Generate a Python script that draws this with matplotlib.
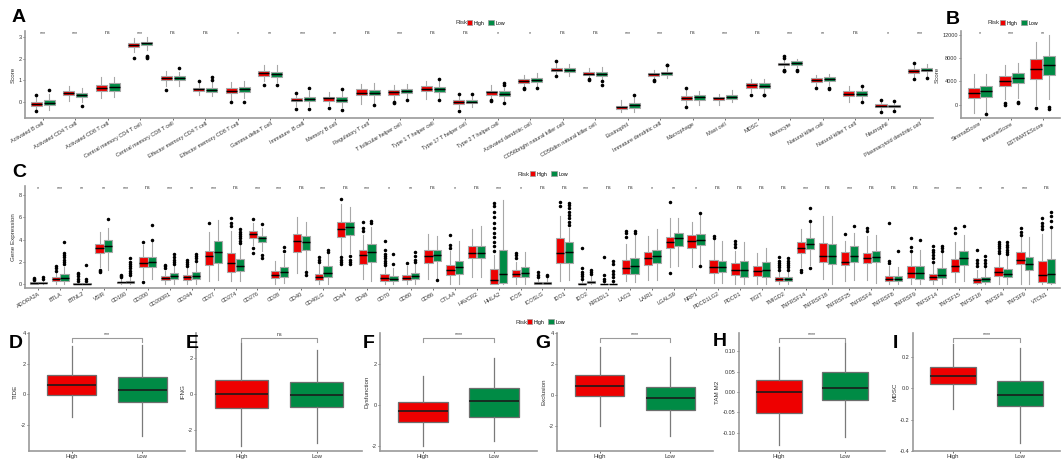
import matplotlib.pyplot as plt
from matplotlib.patches import Patch
from matplotlib.transforms import blended_transform_factory

plt.rcParams['font.family'] = ['Liberation Sans', 'DejaVu Sans']

RED = '#EE0000'
GREEN = '#008B45'
AXC = '#9a9a9a'

# ---------------- panel A: immune cell scores
a_cells = ['Activated B cell', 'Activated CD4 T cell', 'Activated CD8 T cell',
           'Central memory CD4 T cell', 'Central memory CD8 T cell',
           'Effector memory CD4 T cell', 'Effector memory CD8 T cell',
           'Gamma delta T cell', 'Immature  B cell', 'Memory B cell',
           'Regulatory T cell', 'T follicular helper cell', 'Type 1 T helper cell',
           'Type 17 T helper cell', 'Type 2 T helper cell', 'Activated dendritic cell',
           'CD56bright natural killer cell', 'CD56dim natural killer cell',
           'Eosinophil', 'Immature dendritic cell', 'Macrophage', 'Mast cell',
           'MDSC', 'Monocyte', 'Natural killer cell', 'Natural killer T cell',
           'Neutrophil', 'Plasmacytoid dendritic cell']
a_sig = ['***', '***', 'ns', '***', 'ns', 'ns', '*', '**', '***', '**', 'ns', '***',
         'ns', 'ns', '*', '*', 'ns', 'ns', '***', '***', 'ns', '***', 'ns', '***',
         '**', 'ns', '*', '***']
# (whisker low, q1, median, q3, whisker high)
a_high = [(-0.35, -0.18, -0.10, -0.02, 0.20), (0.05, 0.33, 0.42, 0.52, 0.75),
          (0.15, 0.50, 0.65, 0.80, 1.15), (2.30, 2.55, 2.63, 2.72, 2.95),
          (0.75, 1.00, 1.10, 1.18, 1.45), (0.30, 0.50, 0.58, 0.65, 0.85),
          (0.10, 0.42, 0.52, 0.62, 0.90), (0.95, 1.22, 1.32, 1.42, 1.70),
          (-0.20, 0.02, 0.08, 0.15, 0.35), (-0.15, 0.05, 0.15, 0.23, 0.45),
          (-0.10, 0.29, 0.41, 0.57, 0.84), (0.05, 0.32, 0.44, 0.55, 0.80),
          (0.12, 0.48, 0.60, 0.72, 0.95), (-0.30, -0.10, -0.02, 0.07, 0.30),
          (0.15, 0.33, 0.43, 0.52, 0.77), (0.70, 0.88, 0.98, 1.07, 1.25),
          (1.25, 1.42, 1.49, 1.57, 1.80), (1.10, 1.24, 1.30, 1.37, 1.55),
          (-0.50, -0.35, -0.27, -0.20, 0.07), (1.05, 1.20, 1.27, 1.35, 1.50),
          (-0.18, 0.08, 0.18, 0.28, 0.55), (-0.15, 0.08, 0.15, 0.22, 0.35),
          (0.45, 0.65, 0.76, 0.87, 1.05), (1.60, 1.70, 1.76, 1.82, 1.95),
          (0.75, 0.93, 1.02, 1.10, 1.25), (0.00, 0.27, 0.38, 0.48, 0.75),
          (-0.40, -0.26, -0.19, -0.11, 0.00), (1.15, 1.35, 1.44, 1.52, 1.70)]
a_low = [(-0.40, -0.15, -0.04, 0.08, 0.35), (0.00, 0.20, 0.32, 0.42, 0.65),
         (0.20, 0.50, 0.68, 0.85, 1.15), (2.40, 2.65, 2.73, 2.80, 3.00),
         (0.72, 1.02, 1.10, 1.18, 1.40), (0.25, 0.47, 0.55, 0.65, 0.90),
         (0.15, 0.47, 0.58, 0.67, 0.95), (0.92, 1.17, 1.28, 1.37, 1.70),
         (-0.20, 0.04, 0.12, 0.22, 0.50), (-0.25, 0.00, 0.10, 0.20, 0.50),
         (-0.10, 0.30, 0.42, 0.56, 0.85), (0.10, 0.40, 0.50, 0.60, 0.82),
         (0.15, 0.46, 0.58, 0.70, 0.95), (-0.25, -0.07, 0.00, 0.08, 0.30),
         (0.00, 0.27, 0.37, 0.48, 0.65), (0.72, 0.93, 1.02, 1.12, 1.32),
         (1.20, 1.40, 1.47, 1.55, 1.78), (1.05, 1.22, 1.30, 1.38, 1.60),
         (-0.48, -0.28, -0.17, -0.05, 0.25), (1.12, 1.25, 1.32, 1.40, 1.55),
         (-0.15, 0.10, 0.20, 0.30, 0.50), (0.00, 0.12, 0.22, 0.32, 0.55),
         (0.45, 0.65, 0.75, 0.85, 1.05), (1.60, 1.73, 1.81, 1.88, 2.00),
         (0.80, 0.97, 1.05, 1.15, 1.27), (0.05, 0.28, 0.38, 0.48, 0.70),
         (-0.37, -0.27, -0.20, -0.14, 0.00), (1.22, 1.42, 1.50, 1.58, 1.75)]
a_high_out = [[0.30, -0.45], [], [], [2.05], [0.55], [0.95], [0.00], [0.80],
              [0.42, -0.35], [-0.30], [], [0.00, -0.05], [], [0.38, -0.45],
              [0.10, 0.05], [0.62, 0.58], [1.88, 1.20], [1.05, 1.00], [],
              [1.00, 0.98], [0.63, -0.25], [], [0.30], [2.05, 2.15, 1.50, 1.45, 1.42],
              [0.65], [], [0.08, -0.50], [1.80, 1.05]]
a_low_out = [[0.55], [-0.22], [], [2.10, 2.05, 2.15], [1.55], [1.00, 1.15], [-0.02],
             [0.80], [0.65, -0.33], [0.60, -0.38], [-0.15], [0.08], [1.05, 0.07],
             [0.37], [0.85, 0.80, -0.05], [0.65], [], [0.95, 0.80], [0.32],
             [1.72, 1.70], [], [], [0.33, 0.30], [1.50, 1.45], [0.65, 0.57],
             [0.75, 0.00], [0.05, -0.43], [1.10]]

# ---------------- panel B: ESTIMATE scores
b_names = ['StromalScore', 'ImmuneScore', 'ESTIMATEScore']
b_sig = ['*', '***', '**']
b_high = [(-1500, 1100, 1950, 2800, 5300), (1000, 3300, 4100, 5000, 6800),
          (0, 4500, 6200, 7800, 10800)]
b_low = [(-1200, 1400, 2300, 3200, 5200), (1200, 3700, 4600, 5500, 7100),
         (1000, 5100, 6900, 8400, 12000)]
b_high_out = [[], [0, 200], [-600]]
b_low_out = [[-1600], [500, 300], [-400, -800]]

# ---------------- panel C: immune checkpoint genes
c_genes = ['ADORA2A', 'BTLA', 'BTNL2', 'VSIR', 'CD160', 'CD200', 'CD200R1', 'CD244',
           'CD27', 'CD274', 'CD276', 'CD28', 'CD40', 'CD40LG', 'CD44', 'CD48', 'CD70',
           'CD80', 'CD86', 'CTLA4', 'HAVCR2', 'HHLA2', 'ICOS', 'ICOSLG', 'IDO1',
           'IDO2', 'KIR3DL1', 'LAG3', 'LAIR1', 'LGALS9', 'NRP1', 'PDCD1LG2', 'PDCD1',
           'TIGIT', 'TMIGD2', 'TNFRSF14', 'TNFRSF18', 'TNFRSF25', 'TNFRSF4',
           'TNFRSF8', 'TNFRSF9', 'TNFSF14', 'TNFSF15', 'TNFSF18', 'TNFSF4', 'TNFSF9',
           'VTCN1']
c_sig = ['*', '***', '**', '**', '***', 'ns', '***', '**', '***', 'ns', '***', '***',
         'ns', '***', 'ns', '***', '*', '**', 'ns', '*', 'ns', '***', '*', 'ns', 'ns',
         '***', 'ns', 'ns', '*', '**', '*', 'ns', 'ns', 'ns', 'ns', '***', 'ns', '***',
         'ns', 'ns', 'ns', '***', '***', '**', '**', '***', 'ns']
c_high = [(0, 0.05, 0.12, 0.18, 0.35), (0, 0.25, 0.43, 0.6, 1.0), (0, 0.02, 0.05, 0.1, 0.2),
          (1.5, 2.8, 3.27, 3.6, 4.65), (0, 0.08, 0.15, 0.22, 0.45), (0.5, 1.55, 1.93, 2.4, 3.5),
          (0, 0.35, 0.55, 0.75, 1.2), (0, 0.35, 0.6, 0.85, 1.4), (0.25, 1.75, 2.5, 3.0, 4.7),
          (0.25, 1.1, 1.9, 2.8, 4.8), (3.5, 4.15, 4.5, 4.8, 5.5), (0, 0.55, 0.85, 1.2, 2.1),
          (1.0, 2.85, 3.85, 4.45, 6.0), (0, 0.35, 0.65, 0.95, 1.8), (2.6, 4.25, 4.9, 5.55, 7.2),
          (0.5, 1.8, 2.57, 3.09, 4.4), (0, 0.3, 0.58, 0.9, 1.5), (0, 0.35, 0.55, 0.85, 1.6),
          (0.5, 1.93, 2.5, 3.1, 4.5), (0, 0.85, 1.3, 1.7, 3.0), (0.6, 2.3, 2.8, 3.4, 4.9),
          (0, 0.05, 0.35, 1.35, 2.6), (0, 0.6, 0.9, 1.25, 2.0), (0, 0.05, 0.12, 0.2, 0.5),
          (0.3, 1.88, 2.83, 4.16, 6.1), (0, 0.02, 0.05, 0.12, 0.3), (0, 0, 0.02, 0.05, 0.15),
          (0.3, 0.95, 1.44, 2.2, 3.6), (0.4, 1.75, 2.31, 2.9, 4.3), (1.5, 3.2, 3.81, 4.25, 5.9),
          (1.5, 3.25, 3.87, 4.4, 5.6), (0.1, 1.0, 1.5, 2.2, 4.0), (0, 0.85, 1.3, 1.9, 3.0),
          (0, 0.75, 1.2, 1.65, 2.8), (0, 0.25, 0.45, 0.65, 1.2), (1.5, 2.75, 3.23, 3.75, 4.9),
          (0.5, 1.95, 2.5, 3.65, 6.1), (0.3, 1.7, 2.0, 2.9, 3.9), (0.4, 1.9, 2.3, 2.8, 4.3),
          (0, 0.3, 0.5, 0.72, 1.6), (0, 0.55, 1.0, 1.6, 2.8), (0, 0.4, 0.6, 0.95, 1.9),
          (0.2, 1.1, 1.6, 2.25, 3.8), (0, 0.1, 0.35, 0.55, 1.3), (0, 0.75, 1.05, 1.55, 2.6),
          (0.05, 1.8, 2.2, 2.85, 4.2), (0, 0.2, 0.84, 2.1, 4.5)]
c_low = [(0, 0.06, 0.12, 0.2, 0.4), (0, 0.3, 0.58, 0.95, 1.5), (0, 0.02, 0.05, 0.1, 0.2),
         (1.3, 2.9, 3.46, 3.95, 5.0), (0, 0.12, 0.22, 0.32, 0.6), (0.5, 1.5, 2.0, 2.45, 3.8),
         (0, 0.5, 0.75, 1.0, 1.6), (0, 0.45, 0.7, 1.05, 1.9), (0.4, 1.9, 2.85, 3.85, 5.75),
         (0.3, 1.2, 1.65, 2.25, 3.5), (3.0, 3.8, 4.1, 4.35, 5.0), (0.1, 0.65, 1.1, 1.55, 2.7),
         (1.3, 3.1, 3.8, 4.35, 5.6), (0, 0.6, 1.0, 1.6, 2.7), (2.8, 4.4, 5.1, 5.6, 6.9),
         (0.3, 2.0, 2.86, 3.6, 5.1), (0, 0.25, 0.5, 0.75, 1.4), (0, 0.45, 0.7, 1.0, 1.8),
         (0.5, 2.05, 2.65, 3.1, 4.3), (0, 0.9, 1.5, 2.1, 3.9), (0.6, 2.3, 2.8, 3.4, 5.2),
         (0, 0.1, 0.9, 3.1, 7.5), (0, 0.6, 1.0, 1.5, 2.9), (0, 0.05, 0.12, 0.22, 0.55),
         (0.35, 1.9, 2.85, 3.8, 5.0), (0, 0.08, 0.2, 0.3, 0.7), (0, 0, 0.02, 0.05, 0.15),
         (0.2, 0.9, 1.6, 2.35, 4.5), (0.4, 1.9, 2.5, 3.1, 4.9), (1.6, 3.4, 4.1, 4.6, 5.9),
         (1.8, 3.5, 3.95, 4.5, 6.2), (0.1, 1.1, 1.5, 2.1, 3.9), (0, 0.65, 1.3, 2.05, 3.8),
         (0, 0.65, 1.3, 1.95, 3.2), (0, 0.25, 0.45, 0.65, 1.1), (1.7, 3.15, 3.6, 4.1, 5.6),
         (0, 1.8, 2.5, 3.6, 6.1), (0.4, 1.95, 2.5, 3.4, 4.6), (0.1, 1.95, 2.4, 3.0, 4.4),
         (0, 0.3, 0.5, 0.72, 1.5), (0, 0.45, 1.0, 1.65, 3.1), (0, 0.55, 0.85, 1.4, 2.8),
         (0.3, 1.75, 2.3, 2.95, 4.4), (0, 0.2, 0.45, 0.65, 1.4), (0, 0.6, 0.95, 1.35, 2.5),
         (0.05, 1.25, 1.8, 2.4, 4.2), (0, 0.06, 0.92, 2.22, 5.0)]
c_high_out = [[0.4, 0.5, 0.55], [1.2, 1.4, 1.6], [0.3, 0.5, 0.7, 0.9, 1.0], [1.3, 1.2, 1.05],
              [0.6, 0.7, 0.8], [3.8, 0.2], [1.4, 1.6, 1.75], [1.6, 1.8, 2.0, 2.2], [5.5],
              [5.2, 5.5, 5.9], [5.85, 3.2, 2.8], [], [], [2.0, 2.2, 2.4],
              [1.8, 2.0, 2.2, 2.4, 7.6], [4.8, 5.0, 5.6],
              [1.7, 1.9, 2.1, 2.3, 2.5, 2.7, 3.1, 3.9], [1.9], [], [3.2, 3.5, 4.4], [],
              [3.0, 3.4, 3.8, 4.2, 4.6, 5.0, 5.5, 6.0, 6.5, 7.0, 7.3], [2.3, 2.6, 2.8],
              [0.6, 0.8, 1.1], [7.0, 7.4], [0.5, 0.7, 0.9, 1.1, 1.4, 3.2],
              [0.3, 0.5, 0.8, 2.4], [4.2, 4.6, 4.8], [], [1.0, 7.4], [], [4.1, 4.3],
              [3.3, 3.6, 3.9], [], [1.3, 1.5, 1.7, 1.9, 2.1, 2.4], [1.3, 1.1], [], [4.5],
              [4.8, 5.0], [1.9, 2.1, 5.5], [3.0, 3.3, 4.1], [2.0, 2.3, 2.6, 2.9, 3.1, 3.4],
              [4.6, 5.0], [1.6, 1.9, 2.2, 3.1], [2.8, 3.0, 3.2, 3.4, 3.6, 3.8],
              [4.4, 4.7, 5.0], [4.96, 5.25, 5.5, 5.97]]
c_low_out = [[0.5, 0.6], [1.8, 2.0, 2.2, 2.4, 2.6, 2.8, 3.8], [0.3, 0.5, 1.7], [5.8],
             [0.8, 1.0, 1.2, 1.4, 1.6, 1.8, 2.0, 2.3], [4.0, 5.3], [1.8, 2.0, 2.2, 2.4, 2.7],
             [2.1, 2.3, 2.5, 2.7], [], [3.7, 3.9, 4.1, 4.3, 4.5, 4.7, 4.9], [5.4, 2.6, 2.35],
             [3.0, 3.3], [1.1, 0.8], [2.9, 3.1], [1.8, 2.0, 2.2, 2.5], [5.5, 5.7], [1.8, 2.7],
             [2.0, 2.2, 2.5, 2.9], [0.4], [], [], [], [], [0.7, 0.8],
             [5.3, 5.6, 5.9, 6.2, 6.5, 6.8, 7.1, 7.3], [0.9, 1.1, 1.3],
             [0.3, 0.6, 0.9, 1.2, 1.8, 2.1], [4.6, 4.8], [], [], [1.6, 6.4], [], [], [],
             [1.3, 1.5, 1.7, 1.9, 2.1, 2.3], [5.7, 6.8, 1.4], [], [5.2], [], [3.0], [4.0],
             [3.0, 3.2, 3.4], [5.2], [1.6, 1.9, 2.2, 2.5], [2.7, 2.9, 3.1, 3.3, 3.5, 3.8], [],
             [5.1, 5.7, 6.1, 6.46]]

# ---------------- panels D-I: TIDE related scores
d_letters = ['D', 'E', 'F', 'G', 'H', 'I']
d_names = ['TIDE', 'IFNG', 'Dysfunction', 'Exclusion', 'TAM M2', 'MDSC']
d_sig = ['***', 'ns', '****', '****', '****', '****']
d_high = [(-1.48, -0.06, 0.61, 1.27, 3.17), (-2.87, -0.78, 0.02, 0.78, 2.85),
          (-2.0, -0.82, -0.32, 0.16, 1.44), (-2.02, -0.06, 0.59, 1.26, 3.11),
          (-0.13, -0.051, 0.0, 0.029, 0.11), (-0.132, 0.027, 0.077, 0.136, 0.28)]
d_low = [(-2.69, -0.47, 0.30, 1.12, 3.24), (-2.73, -0.72, -0.05, 0.70, 2.45),
         (-1.77, -0.6, 0.18, 0.84, 2.28), (-2.65, -0.95, -0.21, 0.50, 2.48),
         (-0.11, -0.02, 0.01, 0.05, 0.12), (-0.35, -0.111, -0.042, 0.046, 0.257)]
d_ticks = [[-2, 0, 2, 4], [-2, 0, 2], [-2, 0, 2], [-2, 0, 2, 4],
           [-0.10, -0.05, 0.00, 0.05, 0.10], [-0.4, -0.2, 0.0, 0.2]]
d_ticklabels = [['-2', '0', '2', '4'], ['-2', '0', '2'], ['-2', '0', '2'],
                ['-2', '0', '2', '4'], ['-0.10', '-0.05', '0.00', '0.05', '0.10'],
                ['-0.4', '-0.2', '0.0', '0.2']]
d_ylim = [(-3.7, 4.0), (-3.15, 3.4), (-2.27, 3.53), (-3.62, 4.0),
          (-0.144, 0.144), (-0.40, 0.35)]


def stats(rows, outs):
    res = []
    for (lo, q1, med, q3, hi), fl in zip(rows, outs):
        res.append(dict(whislo=lo, q1=q1, med=med, q3=q3, whishi=hi, fliers=fl))
    return res


def boxes(ax, rows, outs, pos, color, width, edge, wcol, medc, lw, ms):
    b = ax.bxp(stats(rows, outs), positions=pos, widths=width, patch_artist=True,
               showcaps=False,
               boxprops=dict(facecolor=color, edgecolor=edge, linewidth=lw),
               medianprops=dict(color=medc, linewidth=lw * 1.3),
               whiskerprops=dict(color=wcol, linewidth=lw),
               flierprops=dict(marker='o', markersize=ms, markerfacecolor='black',
                               markeredgecolor='black', linestyle='none'))
    return b


def style(ax, fs=4):
    for s in ['top', 'right']:
        ax.spines[s].set_visible(False)
    for s in ['left', 'bottom']:
        ax.spines[s].set_color(AXC)
        ax.spines[s].set_linewidth(1.2)
    ax.tick_params(colors='#555555', labelsize=fs, length=1.6, width=0.6, pad=0.8)
    for t in ax.get_xticklabels() + ax.get_yticklabels():
        t.set_color('#333333')


def legend(fig, x, y):
    fig.text(x, y, 'Risk', fontsize=4.5, va='center', ha='left', color='#333333')
    h = [Patch(facecolor=RED, edgecolor='#999999', linewidth=0.5),
         Patch(facecolor=GREEN, edgecolor='#999999', linewidth=0.5)]
    fig.legend(h, ['High', 'Low'], loc='center left', bbox_to_anchor=(x + 0.011, y),
               ncol=2, frameon=False, fontsize=3.8, handlelength=1.1, handleheight=0.9,
               handletextpad=0.3, columnspacing=0.6, borderpad=0, borderaxespad=0)


def grouped(ax, names, high, low, hout, lout, sig, width, off, ms):
    pos = list(range(1, len(names) + 1))
    boxes(ax, high, hout, [p - off for p in pos], RED, width, '#a8a8a8', '#a8a8a8',
          'black', 0.8, ms)
    boxes(ax, low, lout, [p + off for p in pos], GREEN, width, '#a8a8a8', '#a8a8a8',
          'black', 0.8, ms)
    tr = blended_transform_factory(ax.transData, ax.transAxes)
    for p, s in zip(pos, sig):
        ax.text(p, 0.985 if s == 'ns' else 0.975, s, transform=tr, ha='center',
                va='center', fontsize=3.8, color='#333333')
    ax.set_xticks(pos)
    ax.set_xticklabels(names, rotation=30, ha='right', rotation_mode='anchor')


W, H = 1062, 461
fig = plt.figure(figsize=(W / 100, H / 100), dpi=100)


def px(l, t, r, b):
    return [l / W, 1 - b / H, (r - l) / W, (b - t) / H]


# A
axA = fig.add_axes(px(25, 31, 933, 118))
grouped(axA, a_cells, a_high, a_low, a_high_out, a_low_out, a_sig, 0.34, 0.2, 1.6)
axA.set_xlim(0.45, 28.4)
axA.set_ylim(-0.76, 3.3)
axA.set_yticks([0, 1, 2, 3])
axA.set_ylabel('Score', fontsize=4.5, labelpad=2, color='#333333')
style(axA)
fig.text(12 / W, 1 - 17 / H, 'A', fontsize=14, fontweight='bold', va='center')
legend(fig, 455 / W, 1 - 23 / H)

# B
axB = fig.add_axes(px(961, 31, 1060, 118))
grouped(axB, b_names, b_high, b_low, b_high_out, b_low_out, b_sig, 0.38, 0.2, 1.6)
axB.set_xlim(0.4, 3.55)
axB.set_ylim(-2300, 12700)
axB.set_yticks([0, 4000, 8000, 12000])
axB.set_ylabel('Score', fontsize=4.5, labelpad=2, color='#333333')
style(axB)
fig.text(946 / W, 1 - 19 / H, 'B', fontsize=14, fontweight='bold', va='center')
legend(fig, 988 / W, 1 - 23 / H)

# C
axC = fig.add_axes(px(25, 186, 1060, 288))
grouped(axC, c_genes, c_high, c_low, c_high_out, c_low_out, c_sig, 0.38, 0.2, 1.5)
axC.set_xlim(0.4, 47.6)
axC.set_ylim(-0.35, 8.8)
axC.set_yticks([0, 2, 4, 6, 8])
axC.set_ylabel('Gene Expression', fontsize=4.5, labelpad=2, color='#333333')
style(axC)
fig.text(12 / W, 1 - 172 / H, 'C', fontsize=14, fontweight='bold', va='center')
legend(fig, 518 / W, 1 - 174 / H)

# D-I
lefts = [29, 196, 380, 557, 739, 913]
rights = [185, 362, 537, 713, 885, 1060]
let_x = [9, 186, 363, 535, 713, 893]
let_y = [343, 343, 343, 343, 341, 343]
for i in range(6):
    ax = fig.add_axes(px(lefts[i], 333, rights[i], 451))
    boxes(ax, [d_high[i]], [[]], [1], RED, 0.7, '#6e6e6e', '#7a7a7a', '#1a1a1a', 0.9, 1.5)
    boxes(ax, [d_low[i]], [[]], [2], GREEN, 0.7, '#6e6e6e', '#7a7a7a', '#1a1a1a', 0.9, 1.5)
    ax.set_xlim(0.4, 2.6)
    ax.set_ylim(*d_ylim[i])
    ax.set_yticks(d_ticks[i])
    ax.set_yticklabels(d_ticklabels[i])
    ax.set_xticks([1, 2])
    ax.set_xticklabels(['High', 'Low'])
    ax.set_ylabel(d_names[i], fontsize=4.5, labelpad=2, color='#333333')
    style(ax)
    ax.tick_params(axis='x', labelsize=4.3)
    tr = blended_transform_factory(ax.transData, ax.transAxes)
    ax.plot([1, 1, 2, 2], [0.925, 0.96, 0.96, 0.925], transform=tr, color='#9a9a9a',
            lw=0.8, clip_on=False)
    ax.text(1.5, 0.985, d_sig[i], transform=tr, ha='center', va='center', fontsize=3.8,
            color='#333333')
    fig.text(let_x[i] / W, 1 - let_y[i] / H, d_letters[i], fontsize=14, fontweight='bold',
             va='center')
legend(fig, 515 / W, 1 - 322 / H)

fig.savefig('out.png', dpi=100)
